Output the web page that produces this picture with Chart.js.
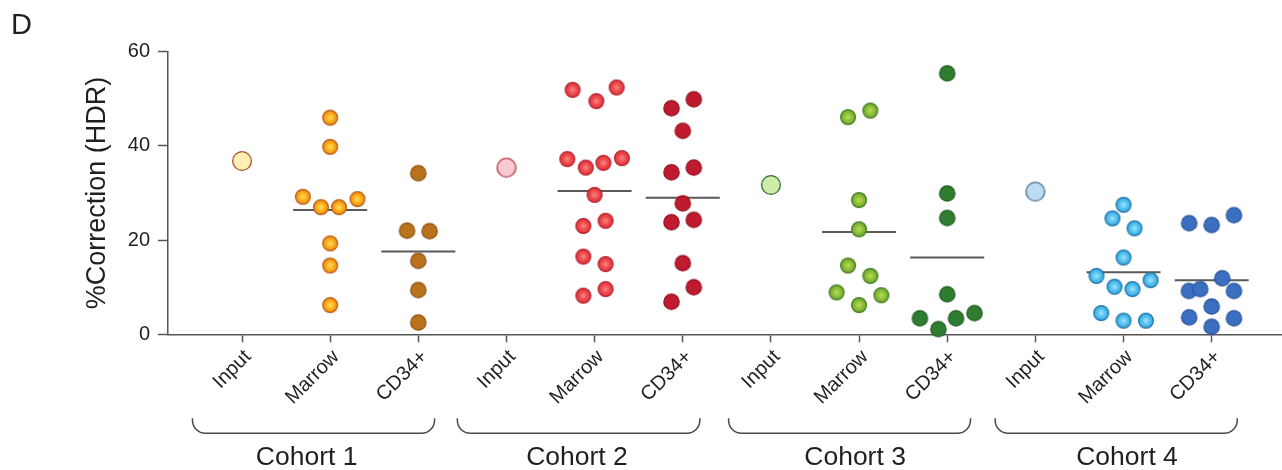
<!DOCTYPE html>
<html>
<head>
<meta charset="utf-8">
<script src="https://cdn.jsdelivr.net/npm/chart.js@4.4.1/dist/chart.umd.min.js"></script>
<style>
  html, body { margin: 0; padding: 0; background: #fff; }
  canvas { display: block; }
</style>
</head>
<body>
<canvas id="chart" width="1282" height="470"></canvas>
<script>
// ---- data ---------------------------------------------------------------
const cohorts = ['Cohort 1', 'Cohort 2', 'Cohort 3', 'Cohort 4'];
const sampleTypes = ['Input', 'Marrow', 'CD34+'];
const yTicks = [0, 20, 40, 60];

const cohort1Input  = [36.8];
const cohort1Marrow = [46.0, 39.8, 29.2, 27.0, 27.0, 28.7, 19.3, 14.6, 6.2];
const cohort1CD34   = [34.2, 22.0, 21.9, 15.6, 9.4, 2.5];

const cohort2Input  = [35.4];
const cohort2Marrow = [51.9, 49.5, 52.4, 37.2, 35.4, 36.4, 37.4, 29.6, 23.0, 24.1, 16.5, 14.9, 8.2, 9.6];
const cohort2CD34   = [49.9, 48.0, 43.2, 35.4, 34.4, 27.8, 23.8, 24.3, 15.1, 10.0, 6.9];

const cohort3Input  = [31.7];
const cohort3Marrow = [46.1, 47.5, 28.5, 22.3, 14.6, 12.4, 8.9, 8.3, 6.2];
const cohort3CD34   = [55.4, 29.9, 24.7, 8.5, 3.4, 1.1, 3.4, 4.5];

const cohort4Input  = [30.3];
const cohort4Marrow = [27.5, 24.6, 22.5, 16.3, 12.4, 10.1, 9.6, 11.5, 4.5, 2.9, 2.9];
const cohort4CD34   = [23.6, 23.2, 25.3, 11.9, 9.2, 9.6, 9.2, 5.9, 3.6, 3.4, 1.6];

// median bars per cohort
const medianMarrow = [26.4, 30.4, 21.7, 13.2];
const medianCD34   = [17.6, 29.0, 16.3, 11.5];

// horizontal spread of overlapping dots, in category widths
const cohort1MarrowSpread = [0, 0, -0.31, -0.105, 0.1, 0.31, 0, 0, 0];
const cohort1CD34Spread   = [0, -0.128, 0.128, 0, 0, 0];
const cohort2MarrowSpread = [-0.25, 0.02, 0.25, -0.31, -0.1, 0.1, 0.31, 0, -0.128, 0.125, -0.128, 0.125, -0.128, 0.125];
const cohort2CD34Spread   = [0.125, -0.128, 0, 0.125, -0.128, 0, -0.128, 0.125, 0, 0.125, -0.128];
const cohort3MarrowSpread = [-0.125, 0.128, 0, 0, -0.125, 0.128, -0.255, 0.253, 0];
const cohort3CD34Spread   = [0, 0, 0, 0, -0.31, -0.1, 0.1, 0.31];
const cohort4MarrowSpread = [0, -0.125, 0.125, 0, -0.307, -0.102, 0.102, 0.307, -0.253, 0, 0.255];
const cohort4CD34Spread   = [-0.255, 0, 0.253, 0.12, -0.258, -0.13, 0.253, 0, -0.255, 0.253, 0];

// ---- styling ------------------------------------------------------------
const FONT = "'Liberation Sans', Arial, Helvetica, sans-serif";
const AXIS = '#555555';
const TEXT = '#1f1f1f';

// cohort brackets and captions under the axis, in category units
const bracketFrom = [-0.562, 2.443, 5.52, 8.544];
const bracketTo   = [2.184, 5.194, 8.264, 11.29];
const captionAt   = [0.733, 3.80, 6.955, 10.04];

function dot(r, fill, border, bw) {
  const size = Math.ceil(2 * r + 2);
  const cv = document.createElement('canvas');
  cv.width = cv.height = size;
  const g = cv.getContext('2d');
  const c = size / 2;
  let paint = fill;
  if (Array.isArray(fill)) {
    paint = g.createRadialGradient(c, c, 0, c, c, r);
    fill.forEach(([o, col]) => paint.addColorStop(o, col));
  }
  g.beginPath();
  g.arc(c, c, r - bw / 2, 0, Math.PI * 2);
  g.fillStyle = paint;
  g.fill();
  g.lineWidth = bw;
  g.strokeStyle = border;
  g.stroke();
  return cv;
}

const styles = [
  [ // cohort 1
    dot(10, '#FEEFB2', '#A4512F', 1.3),
    dot(8, [[0, '#FFE35A'], [0.5, '#FDAE1E'], [1, '#EE8208']], '#B85A1A', 1.2),
    dot(8.3, '#B8731C', '#8C5212', 1.2)
  ],
  [ // cohort 2
    dot(10, '#F9CBD0', '#B23245', 1.3),
    dot(8, [[0, '#F88A86'], [0.5, '#EE4B4E'], [1, '#E0303A']], '#B31F2D', 1.2),
    dot(8.3, '#BF1A2D', '#97101F', 1.2)
  ],
  [ // cohort 3
    dot(10, '#CFEBA8', '#2F6A30', 1.3),
    dot(8, [[0, '#BCDE55'], [0.5, '#8DC13A'], [1, '#6AA02A']], '#3F7A22', 1.2),
    dot(8.3, '#2F7D31', '#1F5E22', 1.2)
  ],
  [ // cohort 4
    dot(10, '#BBDDF3', '#4D6E87', 1.3),
    dot(8, [[0, '#A8E4FA'], [0.5, '#55C2EF'], [1, '#2EA6E0']], '#1F6FA5', 1.2),
    dot(8.3, '#3A6FC1', '#2A559A', 1.2)
  ]
];

const groups = [
  [cohort1Input, cohort1Marrow, cohort1CD34],
  [cohort2Input, cohort2Marrow, cohort2CD34],
  [cohort3Input, cohort3Marrow, cohort3CD34],
  [cohort4Input, cohort4Marrow, cohort4CD34]
];
const spreads = [
  [[0], cohort1MarrowSpread, cohort1CD34Spread],
  [[0], cohort2MarrowSpread, cohort2CD34Spread],
  [[0], cohort3MarrowSpread, cohort3CD34Spread],
  [[0], cohort4MarrowSpread, cohort4CD34Spread]
];

const categoryLabels = [];
cohorts.forEach(() => sampleTypes.forEach(t => categoryLabels.push(t)));

const datasets = [];
groups.forEach((g, ci) => {
  g.forEach((values, ti) => {
    const pos = ci * 3 + ti;
    datasets.push({
      type: 'scatter',
      label: cohorts[ci] + ' ' + sampleTypes[ti],
      data: values.map((v, j) => ({ x: pos + spreads[ci][ti][j], y: v })),
      pointStyle: styles[ci][ti],
      pointRadius: 8,
      pointHoverRadius: 8,
      clip: false,
      order: 1
    });
  });
  [[1, medianMarrow[ci]], [2, medianCD34[ci]]].forEach(([ti, m]) => {
    const pos = ci * 3 + ti;
    datasets.push({
      type: 'line',
      label: 'median',
      data: [{ x: pos - 0.42, y: m }, { x: pos + 0.42, y: m }],
      borderColor: '#5a5a5a',
      borderWidth: 2,
      pointRadius: 0,
      fill: false,
      clip: false,
      order: 2
    });
  });
});

const cohortBrackets = {
  id: 'cohortBrackets',
  afterDraw(chart) {
    const { ctx, chartArea } = chart;
    const x = chart.scales.x;
    const top = chartArea.bottom + 84;
    const bottom = chartArea.bottom + 99;
    const r = 13;
    ctx.save();
    ctx.strokeStyle = '#4a4a4a';
    ctx.lineWidth = 1.5;
    cohorts.forEach((name, i) => {
      const L = x.getPixelForValue(bracketFrom[i]);
      const R = x.getPixelForValue(bracketTo[i]);
      ctx.beginPath();
      ctx.moveTo(L, top);
      ctx.lineTo(L, bottom - r);
      ctx.arcTo(L, bottom, L + r, bottom, r);
      ctx.lineTo(R - r, bottom);
      ctx.arcTo(R, bottom, R, bottom - r, r);
      ctx.lineTo(R, top);
      ctx.stroke();
      ctx.fillStyle = TEXT;
      ctx.font = '26.5px ' + FONT;
      ctx.textAlign = 'center';
      ctx.textBaseline = 'alphabetic';
      ctx.fillText(name, x.getPixelForValue(captionAt[i]), chartArea.bottom + 131);
    });
    // panel letter
    ctx.font = '29px ' + FONT;
    ctx.textAlign = 'left';
    ctx.fillText('D', 11, 34);
    ctx.restore();
  }
};

new Chart(document.getElementById('chart'), {
  data: { datasets },
  plugins: [cohortBrackets],
  options: {
    responsive: false,
    animation: false,
    devicePixelRatio: 1,
    layout: { autoPadding: false, padding: { top: 51.7, left: 0, right: 0, bottom: 0 } },
    plugins: { legend: { display: false }, tooltip: { enabled: false } },
    scales: {
      x: {
        type: 'linear',
        min: -0.8395,
        max: 11.798,
        afterBuildTicks: s => { s.ticks = categoryLabels.map((_, i) => ({ value: i })); },
        afterFit: s => { s.height = 470 - 334.3; s.paddingLeft = 0; s.paddingRight = 0; },
        ticks: {
          autoSkip: false,
          minRotation: 45,
          maxRotation: 45,
          padding: 3,
          labelOffset: 6,
          color: TEXT,
          font: { family: FONT, size: 20 },
          callback: v => categoryLabels[Math.round(v)]
        },
        grid: { drawOnChartArea: false, drawTicks: true, tickLength: 8, tickColor: AXIS, tickWidth: 1.5 },
        border: { display: true, color: AXIS, width: 1.5 }
      },
      y: {
        type: 'linear',
        min: 0,
        max: 60,
        afterBuildTicks: s => { s.ticks = yTicks.map(v => ({ value: v })); },
        afterFit: s => { s.width = 168; },
        ticks: { padding: 8, color: TEXT, font: { family: FONT, size: 20 } },
        grid: { drawOnChartArea: false, drawTicks: true, tickLength: 10, tickColor: AXIS, tickWidth: 1.5 },
        border: { display: true, color: AXIS, width: 1.5 },
        title: {
          display: true,
          text: '%Correction (HDR)',
          color: TEXT,
          font: { family: FONT, size: 27 },
          padding: { top: 81, bottom: 0 }
        }
      }
    }
  }
});
</script>
</body>
</html>
